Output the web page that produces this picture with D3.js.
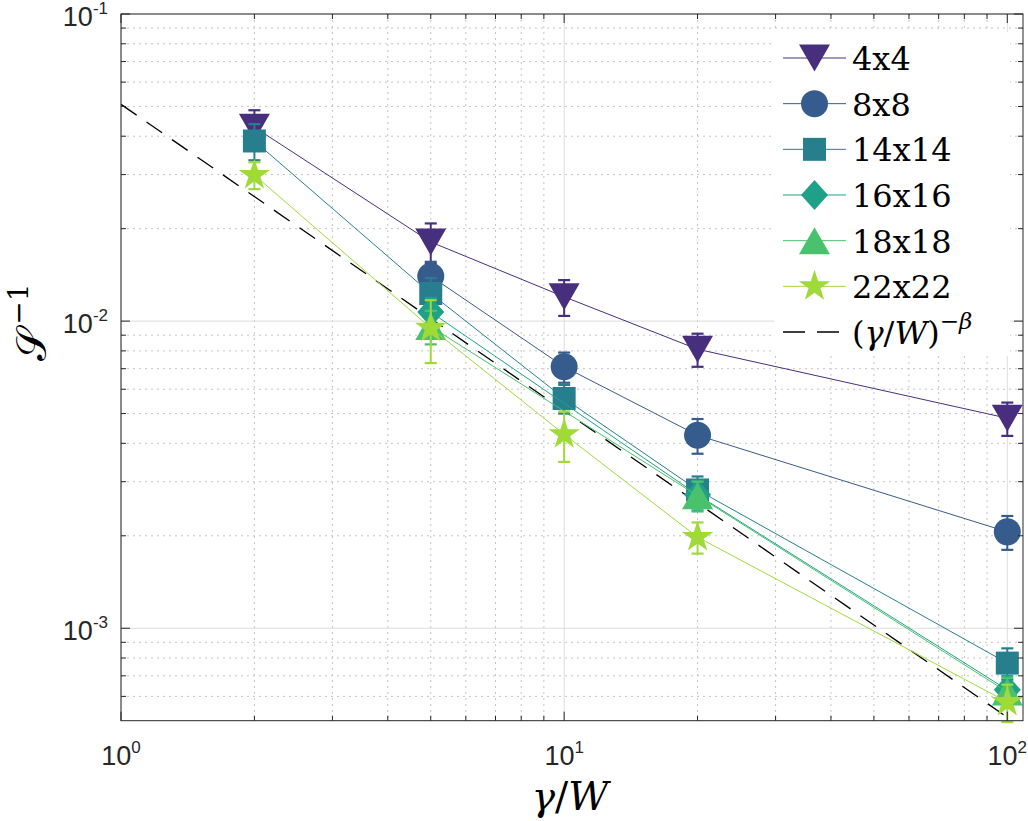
<!DOCTYPE html>
<html>
<head>
<meta charset="utf-8">
<script src="https://cdn.jsdelivr.net/npm/d3@7"></script>
<style>
  body { margin: 0; background: #fff; }
  svg { display: block; }
  .tick-label { font-family: "Liberation Sans", Arial, sans-serif; }
  .serif { font-family: "DejaVu Serif", "Liberation Serif", serif; }
</style>
</head>
<body>
<div id="chart"></div>
<script>
// x values (gamma / W)
const gammaW = [2, 5, 10, 20, 100];

// S^-1 per lattice size, with error bars (null = no point)
const names = ["4x4", "8x8", "14x14", "16x16", "18x18", "22x22"];
const s4x4 = [0.0428, 0.0181, 0.0120, 0.0081, 0.00483];
const e4x4 = [0.0058, 0.0027, 0.0016, 0.0010, 0.0006];
const s8x8 = [null, 0.0140, 0.0071, 0.00425, 0.00206];
const e8x8 = [null, 0.0016, 0.0008, 0.00055, 0.00026];
const s14x14 = [0.0386, 0.0123, 0.0056, 0.00282, 0.00077];
const e14x14 = [0.0052, 0.0015, 0.0006, 0.0003, 0.00009];
const s16x16 = [null, 0.0107, null, 0.00272, 0.00063];
const e16x16 = [null, 0.0012, null, 0.0003, 0.00007];
const s18x18 = [null, 0.0096, null, 0.0027, 0.00062];
const e18x18 = [null, 0.0012, null, 0.0003, 0.00007];
const s22x22 = [0.0299, 0.0095, 0.00428, 0.00198, 0.000575];
const e22x22 = [0.0030, 0.0022, 0.0008, 0.00023, 0.00008];

// power-law guide (gamma/W)^-beta, end points
const fitX = [1, 100];
const fitY = [0.0508, 0.000513];

const colors = ["#472f7d", "#365c8d", "#277f8e", "#1fa188", "#4ac16d", "#a0da39"];
const shapes = ["tridown", "circle", "square", "diamond", "triup", "star"];
const values = [s4x4, s8x8, s14x14, s16x16, s18x18, s22x22];
const errors = [e4x4, e8x8, e14x14, e16x16, e18x18, e22x22];

const series = names.map((n, i) => ({
  name: n, color: colors[i], shape: shapes[i],
  points: gammaW.map((g, j) => ({ x: g, y: values[i][j], e: errors[i][j] }))
    .filter(p => p.y !== null)
}));

const W = 1028, H = 821;
const pLeft = 121, pRight = 1023, pTop = 14, pBottom = 720.7;

const svg = d3.select("#chart").append("svg")
  .attr("width", W).attr("height", H);

const x = d3.scaleLog().domain([1, 108.5]).range([pLeft, pRight]);
const y = d3.scaleLog().domain([5e-4, 0.1]).range([pBottom, pTop]);

svg.append("defs").append("clipPath").attr("id", "plotclip")
  .append("rect").attr("x", pLeft).attr("y", pTop)
  .attr("width", pRight - pLeft).attr("height", pBottom - pTop);

// grid
const xMajor = [1, 10, 100];
const xMinor = [2, 3, 4, 5, 6, 7, 8, 9, 20, 30, 40, 50, 60, 70, 80, 90];
const yMajor = [1e-3, 1e-2, 1e-1];
const yMinor = [6e-4, 7e-4, 8e-4, 9e-4, 2e-3, 3e-3, 4e-3, 5e-3, 6e-3, 7e-3, 8e-3, 9e-3,
                2e-2, 3e-2, 4e-2, 5e-2, 6e-2, 7e-2, 8e-2, 9e-2];

const grid = svg.append("g");
grid.selectAll(".xmin").data(xMinor).enter().append("line")
  .attr("x1", d => x(d)).attr("x2", d => x(d)).attr("y1", pTop).attr("y2", pBottom)
  .attr("stroke", "#c4c4c4").attr("stroke-width", 1).attr("stroke-dasharray", "2,4");
grid.selectAll(".ymin").data(yMinor).enter().append("line")
  .attr("y1", d => y(d)).attr("y2", d => y(d)).attr("x1", pLeft).attr("x2", pRight)
  .attr("stroke", "#c4c4c4").attr("stroke-width", 1).attr("stroke-dasharray", "2,4");
grid.selectAll(".xmaj").data(xMajor).enter().append("line")
  .attr("x1", d => x(d)).attr("x2", d => x(d)).attr("y1", pTop).attr("y2", pBottom)
  .attr("stroke", "#dcdcdc").attr("stroke-width", 1);
grid.selectAll(".ymaj").data(yMajor).enter().append("line")
  .attr("y1", d => y(d)).attr("y2", d => y(d)).attr("x1", pLeft).attr("x2", pRight)
  .attr("stroke", "#dcdcdc").attr("stroke-width", 1);

// marker paths
function markerPath(shape) {
  if (shape === "tridown") return "M-15.5,-13.5 L15.5,-13.5 L0,13.5 Z";
  if (shape === "triup") return "M-15.5,13.5 L15.5,13.5 L0,-13.5 Z";
  if (shape === "square") return "M-11.5,-11.5 H11.5 V11.5 H-11.5 Z";
  if (shape === "diamond") return "M0,-15 L13.5,0 L0,15 L-13.5,0 Z";
  if (shape === "circle") return "M-13.5,0 A13.5,13.5 0 1,0 13.5,0 A13.5,13.5 0 1,0 -13.5,0 Z";
  // star
  const R = 16.5, r = R * 0.382;
  let p = [];
  for (let k = 0; k < 10; k++) {
    const a = -Math.PI / 2 + k * Math.PI / 5;
    const rad = k % 2 === 0 ? R : r;
    p.push([rad * Math.cos(a), rad * Math.sin(a)]);
  }
  return "M" + p.map(q => q[0].toFixed(2) + "," + q[1].toFixed(2)).join("L") + "Z";
}

const line = d3.line().x(d => x(d.x)).y(d => y(d.y));

// guide line
svg.append("path")
  .datum(fitX.map((v, i) => ({ x: v, y: fitY[i] })))
  .attr("d", line)
  .attr("clip-path", "url(#plotclip)")
  .attr("fill", "none").attr("stroke", "#000").attr("stroke-width", 1.3)
  .attr("stroke-dasharray", "19,12");

// series
series.forEach(s => {
  const g = svg.append("g");
  g.append("path").datum(s.points).attr("d", line)
    .attr("clip-path", "url(#plotclip)")
    .attr("fill", "none").attr("stroke", s.color).attr("stroke-width", 1);
  const eb = g.selectAll(".eb").data(s.points).enter().append("g");
  eb.append("line")
    .attr("x1", d => x(d.x)).attr("x2", d => x(d.x))
    .attr("y1", d => y(d.y + d.e)).attr("y2", d => y(d.y - d.e))
    .attr("stroke", s.color).attr("stroke-width", 2);
  [1, -1].forEach(sg => {
    eb.append("line")
      .attr("x1", d => x(d.x) - 6).attr("x2", d => x(d.x) + 6)
      .attr("y1", d => y(d.y + sg * d.e)).attr("y2", d => y(d.y + sg * d.e))
      .attr("stroke", s.color).attr("stroke-width", 2.2);
  });
  g.selectAll(".mk").data(s.points).enter().append("path")
    .attr("d", markerPath(s.shape))
    .attr("transform", d => `translate(${x(d.x)},${y(d.y)})`)
    .attr("fill", s.color);
});

// axes box and ticks
const axisColor = "#262626";
const ax = svg.append("g").attr("stroke", axisColor).attr("stroke-width", 1);
ax.append("rect").attr("x", pLeft).attr("y", pTop)
  .attr("width", pRight - pLeft).attr("height", pBottom - pTop).attr("fill", "none");
const xt = xMajor.map(v => ({ v, len: 9 })).concat(xMinor.map(v => ({ v, len: 5 })));
const yt = yMajor.map(v => ({ v, len: 9 })).concat(yMinor.map(v => ({ v, len: 5 })));
ax.selectAll(".xtb").data(xt).enter().append("line")
  .attr("x1", d => x(d.v)).attr("x2", d => x(d.v)).attr("y1", pBottom).attr("y2", d => pBottom - d.len);
ax.selectAll(".xtt").data(xt).enter().append("line")
  .attr("x1", d => x(d.v)).attr("x2", d => x(d.v)).attr("y1", pTop).attr("y2", d => pTop + d.len);
ax.selectAll(".ytl").data(yt).enter().append("line")
  .attr("y1", d => y(d.v)).attr("y2", d => y(d.v)).attr("x1", pLeft).attr("x2", d => pLeft + d.len);
ax.selectAll(".ytr").data(yt).enter().append("line")
  .attr("y1", d => y(d.v)).attr("y2", d => y(d.v)).attr("x1", pRight).attr("x2", d => pRight - d.len);

// tick labels
function powLabel(sel, exp) {
  sel.append("tspan").text("10");
  sel.append("tspan").attr("dy", -12).style("font-size", "17px").text(exp);
}
xMajor.forEach(v => {
  const t = svg.append("text").attr("class", "tick-label")
    .attr("x", x(v)).attr("y", 765)
    .attr("text-anchor", "middle")
    .style("font-size", "27px").attr("fill", axisColor);
  powLabel(t, String(Math.round(Math.log10(v))));
});
yMajor.forEach(v => {
  const t = svg.append("text").attr("class", "tick-label")
    .attr("x", 108).attr("y", y(v) + 12)
    .attr("text-anchor", "end")
    .style("font-size", "27px").attr("fill", axisColor);
  powLabel(t, String(Math.round(Math.log10(v))));
});

// axis titles
const xl = svg.append("text").attr("class", "serif")
  .attr("x", 570).attr("y", 810)
  .attr("text-anchor", "middle")
  .style("font-size", "39px").attr("fill", "#000");
xl.append("tspan").style("font-style", "italic").text("γ");
xl.append("tspan").text("/");
xl.append("tspan").style("font-style", "italic").text("W");

const yl = svg.append("text").attr("class", "serif")
  .attr("transform", "translate(46,322) rotate(-90)")
  .attr("text-anchor", "middle")
  .style("font-size", "42px").attr("fill", "#000");
yl.append("tspan").text("𝒮");
yl.append("tspan").attr("dy", -18).attr("dx", 3).style("font-size", "28px").text("−1");

// legend
const lg = svg.append("g");
lg.append("rect").attr("x", 774).attr("y", 32).attr("width", 236).attr("height", 324)
  .attr("fill", "#fff");
const rowY = d3.scaleLinear().domain([0, 6]).range([58, 332]);
series.forEach((s, i) => {
  const cy = rowY(i);
  lg.append("line").attr("x1", 783).attr("x2", 846).attr("y1", cy).attr("y2", cy)
    .attr("stroke", s.color).attr("stroke-width", 1);
  lg.append("path").attr("d", markerPath(s.shape))
    .attr("transform", `translate(814.5,${cy})`).attr("fill", s.color);
  lg.append("text").attr("class", "serif").attr("x", 852).attr("y", cy + 12)
    .style("font-size", "32px").attr("fill", "#000")
    .text(s.name);
});
const fy = rowY(6);
lg.append("line").attr("x1", 783).attr("x2", 846).attr("y1", fy).attr("y2", fy)
  .attr("stroke", "#000").attr("stroke-width", 1.3).attr("stroke-dasharray", "22,12");
const ft = lg.append("text").attr("class", "serif").attr("x", 852).attr("y", fy + 12)
  .style("font-size", "32px").attr("fill", "#000");
ft.append("tspan").text("(");
ft.append("tspan").style("font-style", "italic").text("γ");
ft.append("tspan").text("/");
ft.append("tspan").style("font-style", "italic").text("W");
ft.append("tspan").text(")");
ft.append("tspan").attr("dy", -15).style("font-size", "23px").text("−");
ft.append("tspan").style("font-size", "23px").style("font-style", "italic").text("β");
</script>
</body>
</html>
